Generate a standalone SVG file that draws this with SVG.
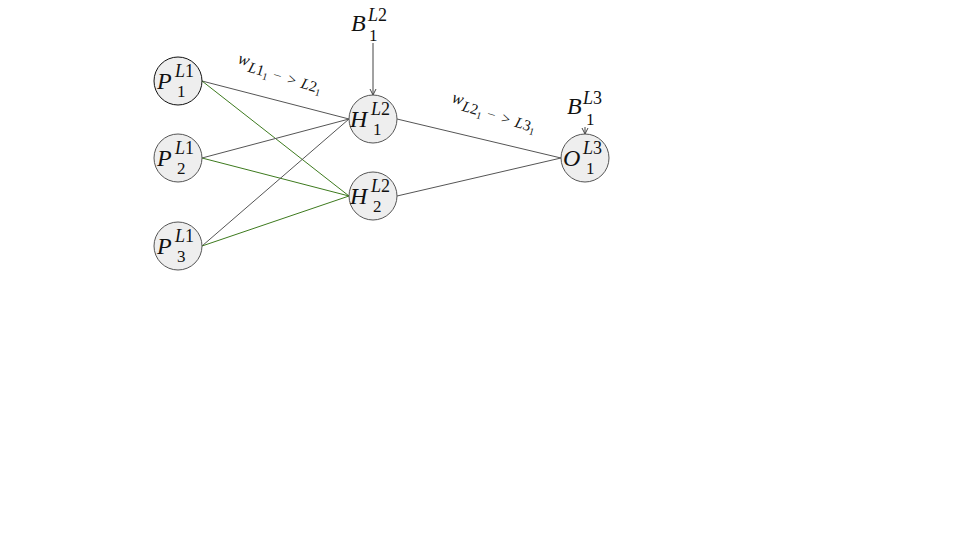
<svg xmlns="http://www.w3.org/2000/svg" width="960" height="540" viewBox="0 0 960 540">
<style>
.node{fill:#eeeeee;stroke:#555555;stroke-width:1}
.node.dark{stroke:#111111}
.e{stroke:#555555;stroke-width:1;fill:none}
.g{stroke:#3d7a1e;stroke-width:1;fill:none}
.arr{stroke:#444444;stroke-width:1;fill:none}
text{font-family:"Liberation Serif","Times New Roman",serif;fill:#111111}
.big{font-size:24px;font-style:italic}
.sup{font-size:18px;font-style:italic}
.sub{font-size:17px}
.up{font-style:normal}
.w{font-size:17px;font-style:italic}
.ws{font-size:15px;font-style:italic}
.wss{font-size:10px;font-style:normal}
</style>
<defs>
<marker id="ah" markerWidth="8" markerHeight="8" refX="7" refY="4" orient="auto" markerUnits="userSpaceOnUse">
<path d="M1,1 L7,4 L1,7" fill="none" stroke="#444444" stroke-width="1"/>
</marker>
</defs>
<rect width="960" height="540" fill="#ffffff"/>
<g id="connectors">
<line class="e" x1="202" y1="81" x2="349" y2="119"/>
<line class="g" x1="202" y1="81" x2="349" y2="196"/>
<line class="e" x1="202" y1="158" x2="349" y2="119"/>
<line class="g" x1="202" y1="158" x2="349" y2="196"/>
<line class="e" x1="202" y1="246" x2="349" y2="119"/>
<line class="g" x1="202" y1="246" x2="349" y2="196"/>
<line class="e" x1="397" y1="119" x2="561" y2="158"/>
<line class="e" x1="397" y1="196" x2="561" y2="158"/>
<line class="arr" x1="373" y1="43" x2="373" y2="95" marker-end="url(#ah)"/>
<line class="arr" x1="585" y1="127" x2="585" y2="134" marker-end="url(#ah)"/>
<text transform="translate(237,63) rotate(17)"><tspan class="w">w</tspan><tspan class="ws" dx="1" dy="5">L<tspan class="up">1</tspan></tspan><tspan class="wss" dy="3">1</tspan><tspan class="ws up" dy="-3" dx="4">−</tspan><tspan class="ws up" dx="5">&gt;</tspan><tspan class="ws" dx="5">L<tspan class="up">2</tspan></tspan><tspan class="wss" dy="3">1</tspan></text>
<text transform="translate(451,102) rotate(17)"><tspan class="w">w</tspan><tspan class="ws" dx="1" dy="5">L<tspan class="up">2</tspan></tspan><tspan class="wss" dy="3">1</tspan><tspan class="ws up" dy="-3" dx="4">−</tspan><tspan class="ws up" dx="5">&gt;</tspan><tspan class="ws" dx="5">L<tspan class="up">3</tspan></tspan><tspan class="wss" dy="3">1</tspan></text>
</g>
<g id="B1">
<text class="big" x="351" y="31">B</text>
<text class="sup" x="368" y="21">L<tspan class="up">2</tspan></text>
<text class="sub" x="369" y="41">1</text>
</g>
<g id="B3">
<text class="big" x="567" y="114">B</text>
<text class="sup" x="583" y="104">L<tspan class="up">3</tspan></text>
<text class="sub" x="586" y="125">1</text>
</g>
<g id="P1">
<circle class="node dark" cx="178" cy="81" r="24"/>
<text class="big" x="157" y="89">P</text>
<text class="sup" x="175" y="77">L<tspan class="up">1</tspan></text>
<text class="sub" x="177" y="97">1</text>
</g>
<g id="P2">
<circle class="node" cx="178" cy="158" r="24"/>
<text class="big" x="157" y="166">P</text>
<text class="sup" x="175" y="154">L<tspan class="up">1</tspan></text>
<text class="sub" x="177" y="174">2</text>
</g>
<g id="P3">
<circle class="node" cx="178" cy="246" r="24"/>
<text class="big" x="157" y="254">P</text>
<text class="sup" x="175" y="242">L<tspan class="up">1</tspan></text>
<text class="sub" x="177" y="262">3</text>
</g>
<g id="H1">
<circle class="node" cx="373" cy="119" r="24"/>
<text class="big" x="350" y="127">H</text>
<text class="sup" x="371" y="115">L<tspan class="up">2</tspan></text>
<text class="sub" x="373" y="135">1</text>
</g>
<g id="H2">
<circle class="node" cx="373" cy="196" r="24"/>
<text class="big" x="350" y="204">H</text>
<text class="sup" x="371" y="192">L<tspan class="up">2</tspan></text>
<text class="sub" x="373" y="212">2</text>
</g>
<g id="O1">
<circle class="node" cx="585" cy="158" r="24"/>
<text class="big" x="563" y="166">O</text>
<text class="sup" x="583" y="154">L<tspan class="up">3</tspan></text>
<text class="sub" x="586" y="174">1</text>
</g>
</svg>
